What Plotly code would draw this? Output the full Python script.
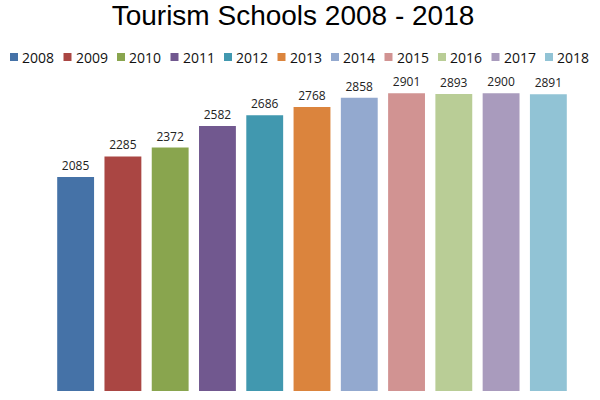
import plotly.graph_objects as go

years = ["2008", "2009", "2010", "2011", "2012", "2013", "2014", "2015", "2016", "2017", "2018"]
schools = [2085, 2285, 2372, 2582, 2686, 2768, 2858, 2901, 2893, 2900, 2891]
colors = ["#4572A7", "#AA4643", "#89A54E", "#71588F", "#4198AF", "#DB843D",
          "#93A9CF", "#D19392", "#B9CD96", "#A99BBD", "#91C3D5"]

W, H = 600, 400
ML, MR, MT, MB = 52, 28, 80, 9
PW = W - ML - MR
PH = H - MT - MB


def px_x(px):
    return (px - ML) / PW


def px_y(py):
    return (H - MB - py) / PH


fig = go.Figure()
fig.add_trace(go.Bar(
    x=years,
    y=schools,
    marker=dict(color=colors, line=dict(width=0)),
    text=[str(v) for v in schools],
    textposition="outside",
    textfont=dict(family="Open Sans", size=12, color="#222222"),
    cliponaxis=False,
    showlegend=False,
))

shapes = []
annotations = []
start, step = 10, 53.5
for i, (yr, c) in enumerate(zip(years, colors)):
    x0 = start + i * step
    shapes.append(dict(type="rect", xref="paper", yref="paper",
                       x0=px_x(x0), x1=px_x(x0 + 8), y0=px_y(61), y1=px_y(53),
                       fillcolor=c, line=dict(width=0)))
    annotations.append(dict(xref="paper", yref="paper", x=px_x(x0 + 10), y=px_y(57),
                            xanchor="left", yanchor="middle", showarrow=False,
                            text=yr, font=dict(family="Open Sans", size=14, color="#111111")))

fig.update_layout(
    width=W, height=H,
    margin=dict(l=ML, r=MR, t=MT, b=MB),
    paper_bgcolor="white", plot_bgcolor="white",
    title=dict(text="Tourism Schools 2008 - 2018", x=293 / W, xanchor="center",
               y=1 - 15 / H, yanchor="middle", yref="container",
               font=dict(family="Liberation Sans", size=28, color="#000000")),
    bargap=0.22,
    xaxis=dict(visible=False, range=[-0.5, 10.5]),
    yaxis=dict(visible=False, range=[0, 3030]),
    shapes=shapes,
    annotations=annotations,
    showlegend=False,
)

fig.write_html("out.html")
